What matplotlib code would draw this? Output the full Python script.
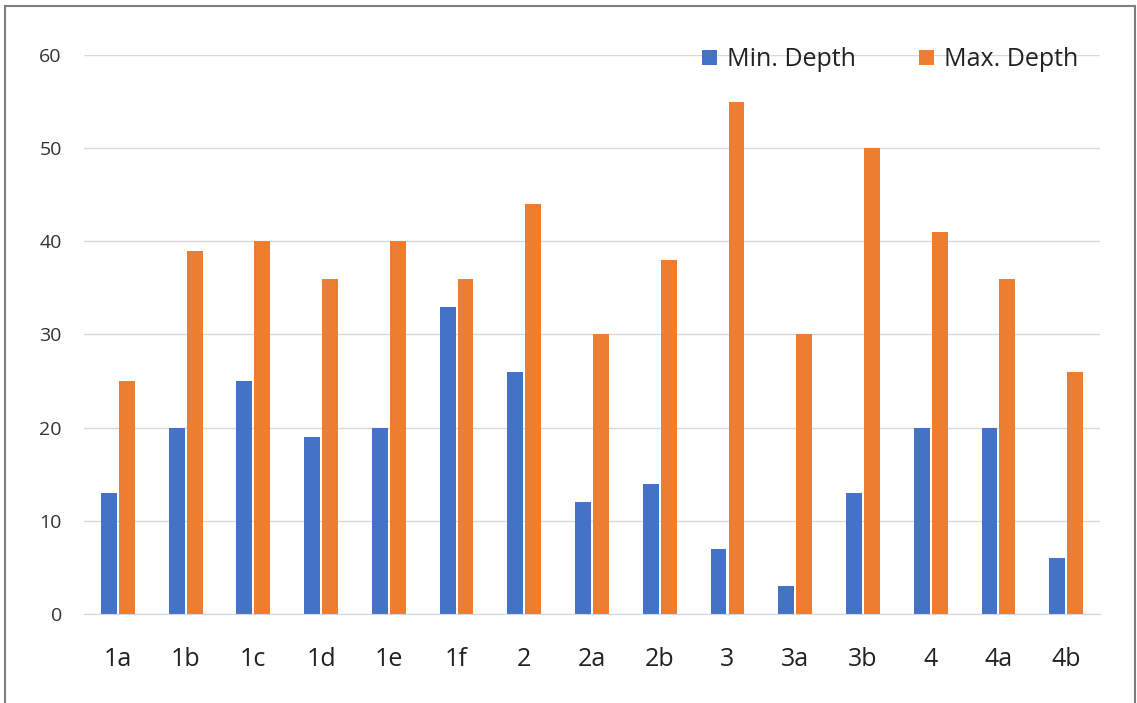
import numpy as np
import matplotlib.pyplot as plt
from matplotlib.patches import Rectangle

plt.rcParams["font.family"] = ["Open Sans", "DejaVu Sans"]

sites = ["1a", "1b", "1c", "1d", "1e", "1f", "2", "2a", "2b", "3", "3a", "3b", "4", "4a", "4b"]
min_depth = [13, 20, 25, 19, 20, 33, 26, 12, 14, 7, 3, 13, 20, 20, 6]
max_depth = [25, 39, 40, 36, 40, 36, 44, 30, 38, 55, 30, 50, 41, 36, 26]

BLUE = "#4472C4"
ORANGE = "#ED7D31"

fig = plt.figure(figsize=(11.37, 7.03), dpi=100)
ax = fig.add_axes([0.0739, 0.1266, 0.8936, 0.7952])

x = np.arange(len(sites))
w = 0.235
gap = 0.03
ax.bar(x - (w + gap) / 2, min_depth, width=w, color=BLUE, label="Min. Depth", zorder=3)
ax.bar(x + (w + gap) / 2, max_depth, width=w, color=ORANGE, label="Max. Depth", zorder=3)

ax.set_xlim(-0.5, len(sites) - 0.5)
ax.set_ylim(0, 60)
ax.set_yticks(range(0, 61, 10))
ax.set_xticks(x)
ax.set_xticklabels(sites)
ax.grid(axis="y", color="#D9D9D9", linewidth=1.0, zorder=0)
for s in ["top", "right", "left"]:
    ax.spines[s].set_visible(False)
ax.spines["bottom"].set_color("#D0D8E4")
ax.spines["bottom"].set_zorder(4)
ax.tick_params(axis="both", length=0)
ax.tick_params(axis="y", labelsize=14, labelcolor="#333333", pad=16)
ax.tick_params(axis="x", labelsize=18, labelcolor="#222222", pad=24)

fig.legend(loc="center", bbox_to_anchor=(0.783, 0.915), ncol=2, frameon=False,
           fontsize=18, handlelength=0.6, handleheight=0.6, handletextpad=0.4,
           columnspacing=2.5, labelcolor="#222222")

# outer frame
fig.patches.append(Rectangle((5 / 1137, -0.01), 1130 / 1137, 1 - 6 / 703 + 0.01,
                             transform=fig.transFigure, fill=False,
                             edgecolor="#7F7F7F", linewidth=1.5))

fig.savefig("out.png", dpi=100)
